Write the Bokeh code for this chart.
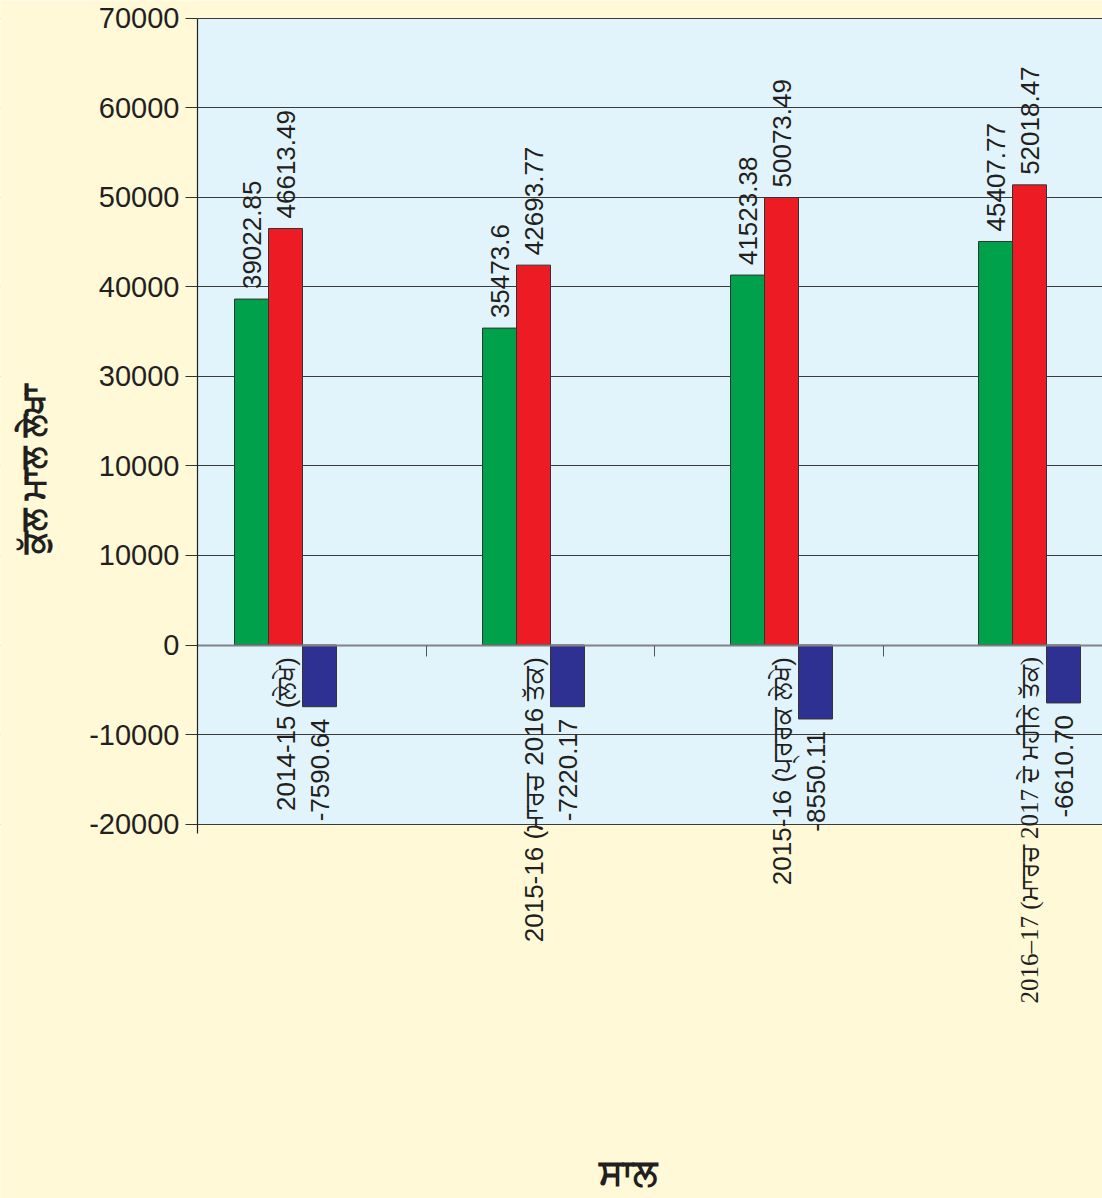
import math
from bokeh.plotting import figure
from bokeh.models import (Range1d, FixedTicker, BoxAnnotation, ColumnDataSource, LinearAxis,
                          Grid, CustomJSTickFormatter)
from bokeh.core.properties import value
from bokeh.embed import file_html
from bokeh.resources import INLINE

# ---------------- data ----------------
categories = ["2014-15 (ਲੇਖੇ)", "2015-16 (ਮਾਰਚ 2016 ਤੱਕ)", "2015-16 (ਪ੍ਰਰਕ ਲੇਖੇ)"]
last_category = "2016–17 (ਮਾਰਚ 2017 ਦੇ ਮਹੀਨੇ ਤੱਕ)"
green_values = [38620, 35380, 41300, 45050]
red_values = [46500, 42410, 49960, 51370]
blue_values = [-6890, -6890, -8260, -6470]
green_labels = ["39022.85", "35473.6", "41523.38", "45407.77"]
red_labels = ["46613.49", "42693.77", "50073.49", "52018.47"]
blue_labels = ["-7590.64", "-7220.17", "-8550.11", "-6610.70"]
y_ticks = [-20000, -10000, 0, 10000, 20000, 30000, 40000, 50000, 60000, 70000]
y_tick_labels = ["-20000", "-10000", "0", "10000", "10000", "30000", "40000", "50000", "60000", "70000"]
y_title = "ਕੁੱਲ ਮਾਲ ਲੇਖਾ"
x_title = "ਸਾਲ"

# ---------------- layout (page pixels -> data) ----------------
W, H = 1102, 1198
Y_TOP, Y_AREA_BOTTOM = 70000, -20000
px_per_y = 627.0 / 70000.0          # pixels per value unit
px_per_x = 248.0                    # pixels per category
TOP_PX = 17.5                       # page y of the 70000 line
AXIS_PX = 197.0                     # page x of the value axis
FIRST_GROUP_PX = 285.0              # page x of the first category centre

x_start = -FIRST_GROUP_PX / px_per_x
x_end = x_start + W / px_per_x
y_end = Y_TOP + TOP_PX / px_per_y
y_start = y_end - H / px_per_y

def px_to_x(px):
    return x_start + px / px_per_x
def px_to_y(py):
    return y_end - py / px_per_y
def dy(pixels):
    return pixels / px_per_y

YELLOW = "#FFF9D7"
BLUE_BG = "#E1F3FB"
GREEN = "#00A14B"
RED = "#ED1C24"
NAVY = "#2E3192"
INK = "#231F20"

p = figure(width=W, height=H, x_range=Range1d(x_start, x_end), y_range=Range1d(y_start, y_end),
           output_backend="svg", toolbar_location=None, x_axis_location=None, y_axis_location=None,
           min_border=0, background_fill_color=YELLOW, border_fill_color=YELLOW,
           outline_line_color=None)
p.xgrid.visible = False
p.ygrid.visible = False

axis_x = px_to_x(AXIS_PX)

# plot-area background
p.add_layout(BoxAnnotation(left=axis_x, bottom=Y_AREA_BOTTOM, top=Y_TOP, fill_color=BLUE_BG,
                           fill_alpha=1.0, line_alpha=0, level="image"))

# horizontal grid
grid = Grid(dimension=1, ticker=FixedTicker(ticks=y_ticks, minor_ticks=[]),
            bounds=(Y_AREA_BOTTOM, Y_TOP), grid_line_color="#3a3a3a", grid_line_width=1)
p.add_layout(grid, "center")
# keep the grid inside the plot area (yellow margin to the left of the axis)
p.add_layout(BoxAnnotation(left=px_to_x(-10), right=axis_x, fill_color=YELLOW, fill_alpha=1.0,
                           line_alpha=0, level="underlay"))

# value axis
ya = LinearAxis(fixed_location=axis_x, ticker=FixedTicker(ticks=y_ticks, minor_ticks=[]),
                bounds=(-21000, Y_TOP))
ya.major_label_overrides = {t: s for t, s in zip(y_ticks, y_tick_labels)}
ya.major_tick_out = 12
ya.major_tick_in = 0
ya.minor_tick_out = 0
ya.minor_tick_in = 0
ya.major_tick_line_color = "#333333"
ya.axis_line_color = INK
ya.axis_line_width = 1.2
ya.major_label_text_font = "Liberation Sans"
ya.major_label_text_font_size = "29px"
ya.major_label_text_color = INK
ya.major_label_standoff = 6
p.add_layout(ya, "left")

# category axis along zero with category-boundary ticks
n = len(green_values)
slot_px = 228.5
boundaries = [px_to_x(AXIS_PX + k * slot_px) for k in range(1, 4)]
xa = LinearAxis(fixed_location=0, bounds=(axis_x, x_end),
                ticker=FixedTicker(ticks=boundaries, minor_ticks=[]),
                formatter=CustomJSTickFormatter(code="return ''"),
                axis_line_color="#808285", axis_line_width=2,
                major_tick_out=11, major_tick_in=0, major_tick_line_color="#555555",
                minor_tick_out=0, minor_tick_in=0)
p.add_layout(xa, "below")

# bars
bw = 34.0 / px_per_x
idx = list(range(n))
for off, vals, col in [(-1, green_values, GREEN), (0, red_values, RED), (1, blue_values, NAVY)]:
    src = ColumnDataSource(dict(x=[i + off * bw for i in idx], top=vals))
    p.vbar(x="x", top="top", bottom=0, width=bw, source=src, fill_color=col,
           line_color="#333333", line_width=1)

# value labels
font_body = value("Liberation Sans")
for off, vals, labs in [(-1, green_values, green_labels), (0, red_values, red_labels)]:
    src = ColumnDataSource(dict(x=[i + off * bw for i in idx], y=[v + dy(10) for v in vals], t=labs))
    p.text(x="x", y="y", text="t", source=src, angle=math.pi / 2, text_align="left",
           text_baseline="middle", text_font=font_body, text_font_size=value("26px"), text_color=INK)
src = ColumnDataSource(dict(x=[i + bw for i in idx], y=[v - dy(12) for v in blue_values], t=blue_labels))
p.text(x="x", y="y", text="t", source=src, angle=math.pi / 2, text_align="right",
       text_baseline="middle", text_font=font_body, text_font_size=value("26px"), text_color=INK)

# category labels (rotated, hanging below the zero line)
src = ColumnDataSource(dict(x=idx[:len(categories)], y=[-dy(12)] * len(categories), t=categories))
p.text(x="x", y="y", text="t", source=src, angle=math.pi / 2, text_align="right",
       text_baseline="middle", text_font=font_body, text_font_size=value("26px"), text_color=INK)
src = ColumnDataSource(dict(x=[idx[-1]], y=[-dy(12)], t=[last_category]))
p.text(x="x", y="y", text="t", source=src, angle=math.pi / 2, text_align="right",
       text_baseline="middle", text_font=value("Liberation Serif"), text_font_size=value("25px"),
       text_color=INK)

# axis titles
p.text(x=[px_to_x(33)], y=[px_to_y(469)], text=[y_title], angle=math.pi / 2,
       text_align="center", text_baseline="middle", text_font=font_body,
       text_font_size=value("33px"), text_font_style="bold", text_color=INK)
p.text(x=[px_to_x(627)], y=[px_to_y(1172)], text=[x_title], text_align="center",
       text_baseline="middle", text_font=font_body, text_font_size=value("36px"),
       text_font_style="bold", text_color=INK)

open("out.html", "w").write(file_html(p, INLINE))
